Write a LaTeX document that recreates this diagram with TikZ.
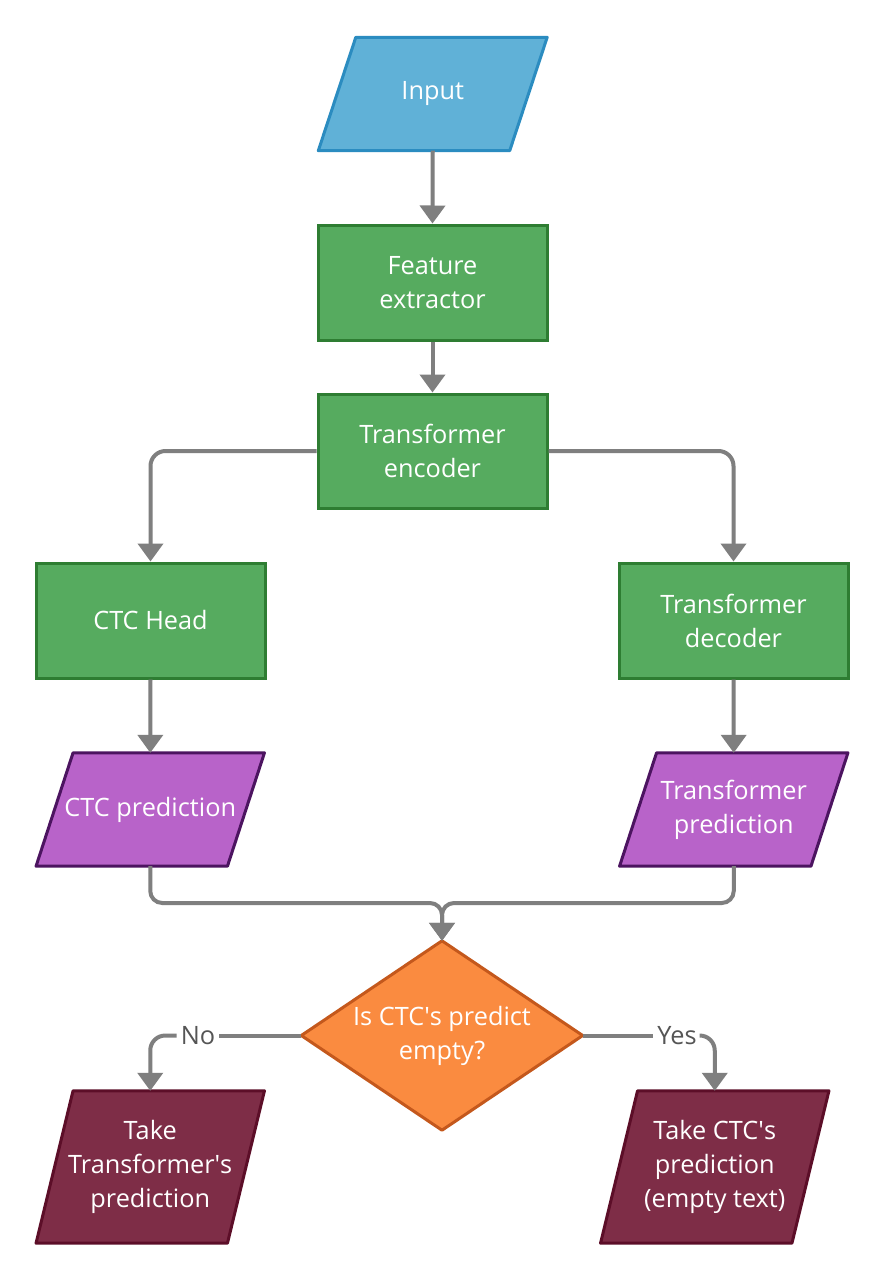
\documentclass[tikz,border=0pt]{standalone}
\usepackage{fontspec}
\setmainfont{Open Sans}
\usetikzlibrary{arrows.meta,calc}
\pgfdeclarelayer{bg}
\pgfdeclarelayer{paper}
\pgfsetlayers{paper,bg,main}
\definecolor{blueF}{HTML}{60B1D7}
\definecolor{blueB}{HTML}{2B8CC0}
\definecolor{greenF}{HTML}{56AB5F}
\definecolor{greenB}{HTML}{2E7D32}
\definecolor{purpF}{HTML}{B863C9}
\definecolor{purpB}{HTML}{4C1460}
\definecolor{marF}{HTML}{7E2D47}
\definecolor{marB}{HTML}{5C0E28}
\definecolor{oraF}{HTML}{FA8B40}
\definecolor{oraB}{HTML}{C4581C}
\definecolor{connC}{HTML}{7F7F7F}
\definecolor{lblC}{HTML}{555555}
\newcommand\boxfont{\fontsize{25.3}{34}\selectfont}
\newcommand\q{\textquotesingle}
\tikzset{
  x=1pt, y=-1pt,
  txt/.style={inner sep=0pt, align=center, text=white, font=\boxfont},
  rectbox/.style={txt, minimum width=229pt, minimum height=115pt, draw=greenB, fill=greenF, line width=3pt},
  parabox/.style={txt, minimum width=191pt},
  shapeline/.style={line width=3pt, line join=round},
  conn/.style={draw=connC, line width=4pt, rounded corners=15pt},
  arr/.style={-{Triangle[width=25pt,length=18pt]}},
  lbl/.style={inner sep=4pt, text=lblC, font=\boxfont}
}
\newcommand\parashape[3]{% node, skew, style
  \begin{pgfonlayer}{bg}
  \draw[shapeline,#3] ($(#1.north west)+(#2,0)$) -- ($(#1.north east)+(#2,0)$) -- ($(#1.south east)-(#2,0)$) -- ($(#1.south west)-(#2,0)$) -- cycle;
  \end{pgfonlayer}}
\begin{document}
\begin{tikzpicture}
\begin{pgfonlayer}{paper}
\fill[white] (0,0) rectangle (885,1280);
\end{pgfonlayer}
\useasboundingbox (0,0) rectangle (885,1280);
% nodes
\node[parabox, minimum height=113pt] (in) at (432.75,94) {Input};
\node[rectbox] (fe) at (432.5,282.5) {Feature\\extractor};
\node[rectbox, minimum height=114pt] (enc) at (432.5,451) {Transformer\\encoder};
\node[rectbox] (ctch) at (150.5,620.5) {CTC Head};
\node[rectbox] (dec) at (733.5,620.5) {Transformer\\decoder};
\node[parabox, minimum height=113pt] (ctcp) at (150.25,809.5) {CTC prediction};
\node[parabox, minimum height=113pt] (trp) at (733.75,809.5) {Transformer\\prediction};
\node[txt, minimum width=281pt, minimum height=189pt] (dia) at (442,1035.5) {Is CTC\q s predict\\empty?};
\node[parabox, minimum height=152pt] (ttr) at (150.25,1167) {Take\\Transformer\q s\\prediction};
\node[parabox, minimum height=152pt] (tctc) at (714.75,1167) {Take CTC\q s\\prediction\\(empty text)};
\node[lbl] (no) at (198,1035.5) {No};
\node[lbl] (yes) at (677,1035.5) {Yes};
\coordinate (m) at (442,903);
% shapes
\parashape{in}{18.75}{draw=blueB, fill=blueF}
\parashape{ctcp}{18.5}{draw=purpB, fill=purpF}
\parashape{trp}{18.5}{draw=purpB, fill=purpF}
\parashape{ttr}{18.5}{draw=marB, fill=marF}
\parashape{tctc}{18.5}{draw=marB, fill=marF}
\begin{pgfonlayer}{bg}
\draw[shapeline, draw=oraB, fill=oraF] (dia.north) -- (dia.east) -- (dia.south) -- (dia.west) -- cycle;
\end{pgfonlayer}
% connectors
\draw[conn, arr] (in.south) -- (fe.north);
\draw[conn, arr] (fe.south) -- (enc.north);
\draw[conn, arr] (enc.west) -| (ctch.north);
\draw[conn, arr] (enc.east) -| (dec.north);
\draw[conn, arr] (ctch.south) -- (ctcp.north);
\draw[conn, arr] (dec.south) -- (trp.north);
\draw[conn, arr, rounded corners=12pt] (ctcp.south) |- (m) -- (dia.north);
\draw[conn, arr, rounded corners=12pt] (trp.south) |- (m) -- (dia.north);
\draw[conn] (dia.west) -- (no.east);
\draw[conn, arr] (no.west) -| (ttr.north);
\draw[conn] (dia.east) -- (yes.west);
\draw[conn, arr] (yes.east) -| (tctc.north);
\end{tikzpicture}
\end{document}
